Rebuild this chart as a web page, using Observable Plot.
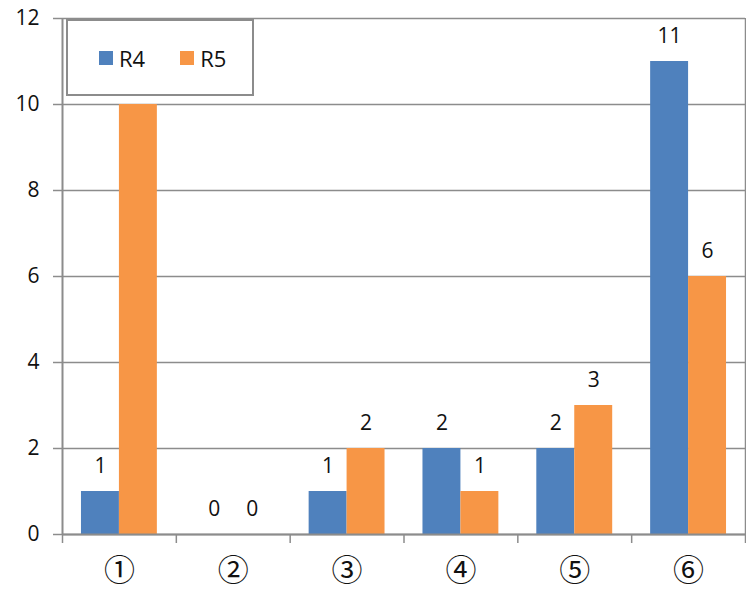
<!DOCTYPE html>
<html><head><meta charset="utf-8">
<script src="https://cdn.jsdelivr.net/npm/d3@7"></script>
<script src="https://cdn.jsdelivr.net/npm/@observablehq/plot@0.6"></script>
<style>
body{margin:0;background:#fff;}
#wrap{position:relative;width:746px;height:589px;}
#legend{position:absolute;left:66px;top:19px;width:184px;height:73px;border:2px solid #8c8c8c;background:#fff;
  font-family:"Open Sans",sans-serif;font-size:22px;color:#111;display:flex;align-items:center;}
.sw{display:inline-block;width:14px;height:14px;margin-right:6px;}
.it{display:flex;align-items:center;}
</style></head>
<body><div id="wrap"><div id="chart"></div><div id="legend"></div></div>
<script>
const categories = ["①","②","③","④","⑤","⑥"];
const seriesNames = ["R4","R5"];
const r4 = [1,0,1,2,2,11];
const r5 = [10,0,2,1,3,6];
const yTicks = [0,2,4,6,8,10,12];
const colors = ["#4F81BD","#F79646"];

const rows = [];
categories.forEach((c,i)=>{
  rows.push({cat:c,i,series:"R4",s:0,value:r4[i]});
  rows.push({cat:c,i,series:"R5",s:1,value:r5[i]});
});
const cats = categories.map((c,i)=>({cat:c,i}));
const grid = "#8c8c8c";
const off = [1/6, 1/2, 5/6];

const plot = Plot.plot({
  width:746, height:589,
  marginLeft:62, marginRight:1, marginTop:18, marginBottom:55,
  style:{fontFamily:"'Open Sans',sans-serif", fontSize:"21px", color:"#111", background:"#fff"},
  x:{type:"linear", domain:[0,categories.length], axis:null},
  y:{domain:[0,12], axis:null},
  color:{domain:seriesNames, range:colors},
  marks:[
    Plot.gridY(yTicks,{stroke:grid, strokeOpacity:1, strokeWidth:1.5}),
    Plot.axisY(yTicks,{tickSize:9, tickPadding:14, stroke:grid, strokeWidth:1.5, fontSize:21, fill:"#111", label:null}),
    Plot.rectY(rows,{x1:d=>d.i+off[d.s], x2:d=>d.i+off[d.s+1], y1:0, y2:"value", fill:"series"}),
    Plot.ruleX([0],{stroke:grid, strokeWidth:2}),
    Plot.ruleX([categories.length],{stroke:grid, strokeWidth:1.5}),
    Plot.ruleY([0],{stroke:grid, strokeWidth:2}),
    Plot.axisX(d3.range(categories.length+1),{tickSize:9, tickFormat:()=>"", stroke:grid, strokeWidth:1.5, label:null}),
    Plot.text(rows,{x:d=>d.i+(off[d.s]+off[d.s+1])/2, y:"value", text:d=>String(d.value), dy:-25, fontSize:21, fill:"#111"}),
    Plot.text(cats,{x:d=>d.i+0.5, y:0, text:"cat", dy:37, fontSize:31, fontFamily:"'Noto Sans CJK JP',sans-serif", fill:"#111"})
  ]
});
document.getElementById("chart").appendChild(plot);

const leg = document.getElementById("legend");
seriesNames.forEach((n,k)=>{
  const it = document.createElement("span");
  it.className="it";
  it.style.marginLeft = k===0 ? "31px" : "35px";
  it.innerHTML = `<span class="sw" style="background:${colors[k]}"></span>${n}`;
  leg.appendChild(it);
});
</script></body></html>
